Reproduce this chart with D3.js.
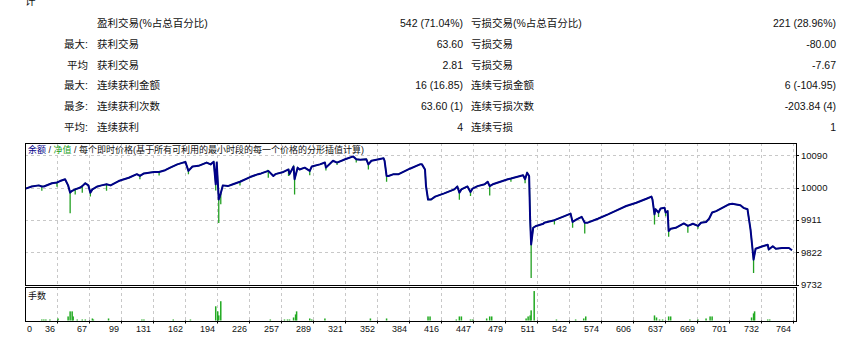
<!DOCTYPE html>
<html>
<head>
<meta charset="utf-8">
<script src="https://cdn.jsdelivr.net/npm/d3@7"></script>
<style>
  body { margin: 0; background: #fff; }
  text { font-family: "Liberation Sans", "Noto Sans CJK SC", sans-serif; fill: #111; }
</style>
</head>
<body>
<div id="chart-area"></div>
<script>
// summary table
const prefixes = ['', '最大:', '平均', '最大:', '最多:', '平均:'];
const labels1 = ['盈利交易(%占总百分比)', '获利交易', '获利交易', '连续获利金额', '连续获利次数', '连续获利'];
const values1 = ['542 (71.04%)', '63.60', '2.81', '16 (16.85)', '63.60 (1)', '4'];
const labels2 = ['亏损交易(%占总百分比)', '亏损交易', '亏损交易', '连续亏损金额', '连续亏损次数', '连续亏损'];
const values2 = ['221 (28.96%)', '-80.00', '-7.67', '6 (-104.95)', '-203.84 (4)', '1'];

// axes
const xTickLabels = [0, 36, 67, 99, 131, 162, 194, 226, 257, 289, 321, 352, 384, 416, 447, 479, 511, 542, 574, 606, 637, 669, 701, 732, 764];
const yTickLabels = [9732, 9822, 9911, 10000, 10090];

// balance curve [trade #, balance]
const balance = [[5,9998],[11,10004],[18,10007],[21,10004],[23,10004],[31,10013],[36,10015],[39,10019],[44,10024],[47,10007],[49,9987],[51,9992],[54,9996],[59,10001],[61,10005],[64,10013],[67,10007],[69,9987],[71,9996],[76,10004],[80,10007],[85,10010],[89,10007],[97,10019],[100,10022],[107,10028],[115,10038],[118,10033],[122,10040],[132,10044],[137,10044],[143,10049],[148,10056],[155,10065],[163,10072],[166,10047],[170,10059],[176,10061],[184,10070],[188,10065],[191,10072],[193,10010],[194,10070],[196,9968],[198,9985],[200,10007],[205,10005],[210,10010],[217,10017],[227,10030],[235,10038],[238,10040],[245,10047],[250,10033],[252,10038],[260,10044],[265,10051],[266,10038],[270,10059],[271,10024],[274,10056],[276,10051],[281,10056],[286,10047],[288,10059],[296,10065],[301,10070],[302,10056],[309,10075],[313,10070],[321,10079],[329,10087],[332,10079],[336,10078],[342,10079],[344,10065],[347,10075],[352,10078],[359,10082],[360,10075],[362,10033],[364,10033],[369,10038],[374,10038],[377,10042],[385,10053],[395,10065],[397,10065],[400,10051],[401,10005],[403,9968],[406,9968],[410,9976],[419,9985],[429,9996],[432,10004],[434,9987],[436,9996],[442,10004],[445,9989],[447,9998],[452,10005],[459,10010],[462,10017],[464,10005],[467,10010],[482,10024],[485,10026],[497,10035],[499,10024],[501,10042],[503,10033],[504,9913],[505,9844],[507,9890],[510,9895],[517,9901],[518,9904],[528,9911],[538,9922],[544,9929],[546,9906],[550,9913],[555,9920],[558,9904],[561,9904],[571,9915],[581,9927],[588,9936],[599,9950],[609,9959],[619,9970],[624,9976],[625,9968],[627,9927],[628,9941],[631,9932],[633,9943],[637,9945],[638,9932],[640,9936],[641,9881],[643,9887],[648,9890],[656,9902],[660,9895],[665,9901],[670,9895],[673,9904],[678,9906],[681,9915],[684,9932],[688,9936],[701,9955],[704,9956],[712,9952],[715,9945],[719,9941],[722,9885],[724,9830],[725,9802],[727,9832],[734,9839],[739,9843],[740,9830],[744,9839],[747,9832],[753,9834],[760,9834],[763,9828]];

// equity lows [trade #, equity]
const equityDips = [[21,9992],[36,10003],[49,9930],[54,9982],[61,9987],[69,9976],[85,9992],[118,10024],[137,10034],[166,10038],[193,9993],[196,9903],[198,9955],[217,10007],[245,10028],[265,10033],[271,9982],[286,10035],[302,10048],[313,10063],[332,10070],[344,10051],[362,10017],[434,9967],[445,9978],[464,9979],[485,10017],[499,10013],[505,9751],[528,9899],[546,9890],[558,9874],[627,9899],[631,9920],[638,9922],[641,9865],[660,9876],[670,9887],[725,9765]];

// lots [trade #, lots]
const lots = [[21,0.01],[23,0.01],[25,0.01],[29,0.01],[37,0.02],[47,0.04],[49,0.09],[51,0.09],[52,0.04],[56,0.01],[61,0.01],[64,0.01],[71,0.02],[72,0.01],[87,0.02],[120,0.01],[122,0.01],[151,0.01],[168,0.01],[193,0.14],[195,0.09],[196,0.05],[198,0.19],[247,0.01],[261,0.01],[264,0.01],[266,0.01],[270,0.03],[272,0.06],[273,0.09],[286,0.02],[288,0.01],[301,0.02],[346,0.02],[362,0.02],[403,0.04],[405,0.04],[431,0.01],[434,0.04],[436,0.04],[445,0.01],[447,0.01],[461,0.02],[464,0.04],[466,0.04],[500,0.02],[502,0.04],[504,0.05],[505,0.10],[508,0.29],[530,0.01],[549,0.01],[557,0.02],[559,0.04],[627,0.05],[629,0.03],[632,0.01],[635,0.01],[641,0.04],[643,0.04],[662,0.01],[670,0.01],[678,0.02],[682,0.04],[684,0.04],[723,0.03],[725,0.07],[726,0.09],[739,0.01],[741,0.01]];

(() => {
  const W = 852, H = 343;
  const left = 25, right = 796;
  const mainTop = 143, mainBottom = 285;
  const lotTop = 287, lotBottom = 320.5;

  const svg = d3.select('#chart-area').append('svg')
    .attr('width', W)
    .attr('height', H);

  // ---- table ----
  const rowY = i => 27 + i * 20.8;
  const tbl = svg.append('g').style('font-size', '10.5px');
  tbl.append('text').attr('x', 25).attr('y', 5).text('计');
  prefixes.forEach((p, i) => {
    tbl.append('text').attr('x', 88).attr('y', rowY(i)).attr('text-anchor', 'end').text(p);
    tbl.append('text').attr('x', 97).attr('y', rowY(i)).text(labels1[i]);
    tbl.append('text').attr('x', 463).attr('y', rowY(i)).attr('text-anchor', 'end').text(values1[i]);
    tbl.append('text').attr('x', 471).attr('y', rowY(i)).text(labels2[i]);
    tbl.append('text').attr('x', 836).attr('y', rowY(i)).attr('text-anchor', 'end').text(values2[i]);
  });

  // ---- scales ----
  const x = d3.scaleLinear().domain([0, 764]).range([20.6, 793]);
  const xTick = d3.scalePoint().domain(xTickLabels).range([left, 793]);
  const y = d3.scaleLinear().domain([9732, 10124]).range([mainBottom, mainTop]);
  const yLots = d3.scaleLinear().domain([0, 0.33]).range([lotBottom, lotTop]);

  svg.append('defs').append('clipPath').attr('id', 'clipMain')
    .append('rect').attr('x', left).attr('y', mainTop).attr('width', right - left).attr('height', mainBottom - mainTop);

  // ---- grid ----
  const grid = svg.append('g')
    .attr('stroke', '#c8c8c8')
    .attr('stroke-dasharray', '3,3')
    .attr('shape-rendering', 'crispEdges');

  grid.selectAll('.vmain')
    .data(xTickLabels.slice(1))
    .enter().append('line')
      .attr('x1', d => Math.round(xTick(d)) + 0.5)
      .attr('x2', d => Math.round(xTick(d)) + 0.5)
      .attr('y1', mainTop)
      .attr('y2', mainBottom);

  grid.selectAll('.vlot')
    .data(xTickLabels.slice(1))
    .enter().append('line')
      .attr('x1', d => Math.round(xTick(d)) + 0.5)
      .attr('x2', d => Math.round(xTick(d)) + 0.5)
      .attr('y1', lotTop)
      .attr('y2', lotBottom);

  grid.selectAll('.h')
    .data(yTickLabels.slice(1))
    .enter().append('line')
      .attr('x1', left)
      .attr('x2', right)
      .attr('y1', d => Math.round(y(d)) + 0.5)
      .attr('y2', d => Math.round(y(d)) + 0.5);

  // ---- equity & balance ----
  const equity = [];
  const dipMap = new Map(equityDips);
  balance.forEach(([i, v]) => {
    equity.push([i, v]);
    if (dipMap.has(i)) {
      equity.push([i, dipMap.get(i)]);
      equity.push([i, v]);
    }
  });

  const line = d3.line()
    .x(d => x(d[0]))
    .y(d => y(d[1]));

  const plot = svg.append('g').attr('clip-path', 'url(#clipMain)');

  plot.append('path')
    .datum(equity)
    .attr('d', line)
    .attr('fill', 'none')
    .attr('stroke', '#22a022')
    .attr('stroke-width', 1.3);

  plot.append('path')
    .datum(balance)
    .attr('d', line)
    .attr('fill', 'none')
    .attr('stroke', '#000088')
    .attr('stroke-width', 2)
    .attr('stroke-linejoin', 'round');

  // ---- lots ----
  svg.append('g').selectAll('rect')
    .data(lots)
    .enter().append('rect')
      .attr('x', d => x(d[0]) - 0.75)
      .attr('y', d => yLots(d[1]))
      .attr('width', 1.5)
      .attr('height', d => lotBottom - yLots(d[1]))
      .attr('fill', '#22aa22');

  // ---- frames ----
  const frame = svg.append('g')
    .attr('fill', 'none')
    .attr('stroke', '#000')
    .attr('shape-rendering', 'crispEdges');
  frame.append('rect')
    .attr('x', left + 0.5).attr('y', mainTop + 0.5)
    .attr('width', right - left).attr('height', mainBottom - mainTop);
  frame.append('rect')
    .attr('x', left + 0.5).attr('y', lotTop + 0.5)
    .attr('width', right - left).attr('height', lotBottom - lotTop);

  // ---- titles ----
  const title = svg.append('text')
    .attr('x', 28).attr('y', 153)
    .style('font-size', '9px');
  title.append('tspan').style('fill', '#000088').text('余额');
  title.append('tspan').text(' / ');
  title.append('tspan').style('fill', '#22a022').text('净值');
  title.append('tspan').text(' / 每个即时价格(基于所有可利用的最小时段的每一个价格的分形插值计算)');

  svg.append('text')
    .attr('x', 28).attr('y', 299)
    .style('font-size', '9px')
    .text('手数');

  // ---- y axis ----
  const yAxis = svg.append('g').style('font-size', '9.5px');
  yAxis.selectAll('line')
    .data(yTickLabels)
    .enter().append('line')
      .attr('x1', right).attr('x2', right + 3)
      .attr('y1', d => Math.round(y(d)) + 0.5)
      .attr('y2', d => Math.round(y(d)) + 0.5)
      .attr('stroke', '#000');
  yAxis.selectAll('text')
    .data(yTickLabels)
    .enter().append('text')
      .attr('x', 801)
      .attr('y', d => y(d))
      .attr('dy', '0.35em')
      .text(d => d);

  // ---- x axis ----
  const xAxis = svg.append('g').style('font-size', '9px');
  xAxis.selectAll('line')
    .data(xTickLabels.slice(1))
    .enter().append('line')
      .attr('x1', d => Math.round(xTick(d)) + 0.5)
      .attr('x2', d => Math.round(xTick(d)) + 0.5)
      .attr('y1', lotBottom)
      .attr('y2', lotBottom + 3)
      .attr('stroke', '#000');
  xAxis.selectAll('text')
    .data(xTickLabels)
    .enter().append('text')
      .attr('x', (d, i) => i === 0 ? 27 : xTick(d) - 2)
      .attr('y', 332)
      .attr('text-anchor', (d, i) => i === 0 ? 'start' : 'end')
      .text(d => d);
})();
</script>
</body>
</html>
